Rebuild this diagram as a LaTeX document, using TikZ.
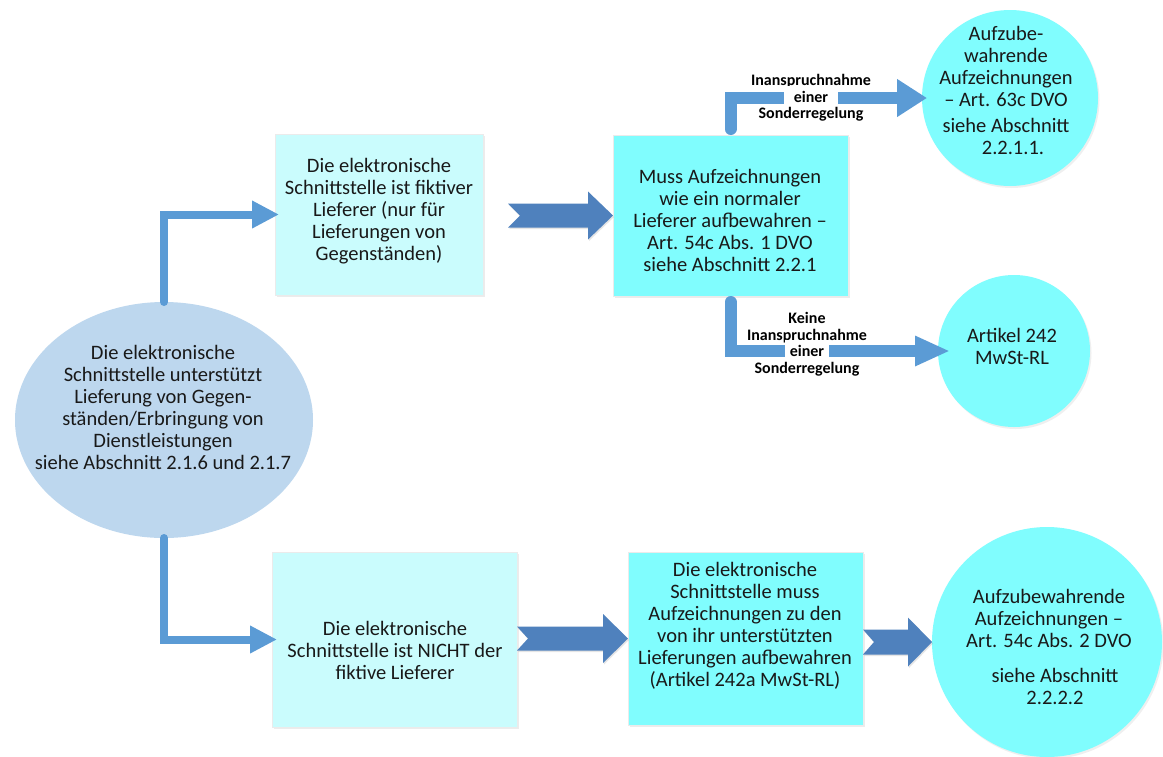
\documentclass[tikz,border=0pt]{standalone}
\usepackage{fontspec}
\setmainfont{Carlito}
\usetikzlibrary{shapes.geometric,arrows.meta,calc,shadows}
\definecolor{elbowblue}{RGB}{91,155,213}
\definecolor{chevblue}{RGB}{79,129,189}
\definecolor{lightcyan}{RGB}{202,252,253}
\definecolor{brightcyan}{RGB}{128,253,254}
\definecolor{ellblue}{RGB}{189,215,238}
\definecolor{txt}{RGB}{25,25,25}
\newcommand\blockarr[6]{%
  \fill[chev] let \p1=(#1), \p2=(#2) in
   (\x1,\y2+#3) -- (\x2-#5,\y2+#3) -- (\x2-#5,\y2+#4) -- (\x2,\y2) --
   (\x2-#5,\y2-#4) -- (\x2-#5,\y2-#3) -- (\x1,\y2-#3) -- (\x1+#6,\y2) -- cycle;}
\begin{document}
\begin{tikzpicture}[x=1pt,y=-1pt,
  shp/.style={inner sep=0pt,outer sep=0pt},
  boxlight/.style={shp,rectangle,fill=lightcyan,draw=black!8,line width=0.6pt,
     drop shadow={opacity=0.15,shadow xshift=1.5pt,shadow yshift=-2pt}},
  boxbright/.style={shp,rectangle,fill=brightcyan,draw=black!8,line width=0.6pt,
     drop shadow={opacity=0.15,shadow xshift=1.5pt,shadow yshift=-2pt}},
  roundc/.style={shp,circle,fill=brightcyan,
     drop shadow={opacity=0.12,shadow xshift=1.5pt,shadow yshift=-2pt}},
  ellc/.style={shp,ellipse,fill=ellblue},
  txtn/.style={align=center,text=txt,inner sep=0pt,font=\fontsize{20.5}{22}\selectfont},
  lab/.style={align=center,text=black,inner sep=0pt,font=\bfseries\fontsize{16}{16.5}\selectfont},
  elbthin/.style={draw=elbowblue,line width=8pt,line cap=round,line join=miter,
     -{Triangle[length=27pt,width=26pt]}},
  elbthick/.style={draw=elbowblue,line width=12pt,line cap=round,line join=miter},
  chev/.style={fill=chevblue,drop shadow={opacity=0.2,shadow xshift=1pt,shadow yshift=-1.5pt}}
]
\useasboundingbox[fill=white] (0,0) rectangle (1163,756);

% shapes
\node[ellc,minimum width=298pt,minimum height=236pt] (ell) at (164,420) {};
\node[boxlight,minimum width=208pt,minimum height=161pt] (b1) at (379,214.5) {};
\node[boxbright,minimum width=235pt,minimum height=161pt] (b2) at (730.5,215.5) {};
\node[boxlight,minimum width=245pt,minimum height=175pt] (b3) at (394.5,639.5) {};
\node[boxbright,minimum width=235pt,minimum height=173pt] (b4) at (745.5,638.5) {};
\node[roundc,minimum size=176pt] (c1) at (1010,98) {};
\node[roundc,minimum size=152pt] (c2) at (1014,351) {};
\node[roundc,minimum size=230pt] (c3) at (1047,642) {};

% elbow connectors
\draw[elbthin,shorten >=-4pt] (ell.north) |- (b1.west);
\draw[elbthin,shorten >=-5pt] (ell.south) |- (b3.west);
\draw[elbthick,shorten <=6pt,shorten >=-5pt,-{Triangle[length=30pt,width=36pt]}] (b2.north) |- (c1.west);
\draw[elbthick,shorten <=6pt,shorten >=-12pt,-{Triangle[length=35pt,width=28pt]}] (b2.south) |- (c2.west);

% block arrows
\blockarr{$(b1.east)+(25,0)$}{b2.west}{12pt}{24pt}{25pt}{12pt}
\blockarr{b3.east}{b4.west}{12pt}{24.5pt}{25pt}{11pt}
\blockarr{b4.east}{c3.west}{12.5pt}{24.5pt}{24pt}{11pt}

% texts
\node[txtn] (tell) at (163,407.5) {Die elektronische\\Schnittstelle unterstützt\\Lieferung von Gegen-\\ständen/Erbringung von\\Dienstleistungen\\siehe Abschnitt 2.1.6 und 2.1.7};
\node[txtn] (t1) at (379,211) {Die elektronische\\Schnittstelle ist fiktiver\\Lieferer (nur für\\Lieferungen von\\Gegenständen)};
\node[txtn] (t2) at (730,220) {Muss Aufzeichnungen\\wie ein normaler\\Lieferer aufbewahren –\\Art. 54c Abs. 1 DVO\\siehe Abschnitt 2.2.1};
\node[txtn] (t3) at (395,650) {Die elektronische\\Schnittstelle ist NICHT der\\fiktive Lieferer};
\node[txtn] (t4) at (745,626) {Die elektronische\\Schnittstelle muss\\Aufzeichnungen zu den\\von ihr unterstützten\\Lieferungen aufbewahren\\(Artikel 242a MwSt-RL)};
\node[txtn] (tc1) at (1006,90.5) {Aufzube-\\wahrende\\Aufzeichnungen\\– Art. 63c DVO\\[4.5pt]siehe Abschnitt\\\hspace*{14pt}2.2.1.1.};
\node[txtn] (tc2) at (1012,346) {Artikel 242\\MwSt-RL};
\node[txtn] (tc3) at (1049,646.5) {Aufzubewahrende\\Aufzeichnungen –\\Art. 54c Abs. 2 DVO\\[13pt]\hspace*{12pt}siehe Abschnitt\\\hspace*{12pt}2.2.2.2};

% labels
\node[lab] (l1) at (811,98) {Inanspruchnahme\\\smash{\fboxsep=5pt\colorbox{white}{\hspace{5pt}einer\hspace{5pt}}}\\Sonderregelung};
\node[lab] (l2) at (807,344) {Keine\\Inanspruchnahme\\\smash{\fboxsep=5pt\colorbox{white}{einer}}\\Sonderregelung};
\end{tikzpicture}
\end{document}
